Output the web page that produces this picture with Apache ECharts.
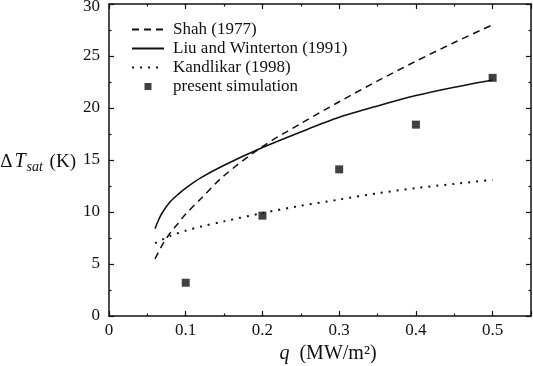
<!DOCTYPE html>
<html>
<head>
<meta charset="utf-8">
<script src="https://cdn.jsdelivr.net/npm/echarts@6/dist/echarts.min.js"></script>
<style>
html,body{margin:0;padding:0;background:#fff;}
#chart{width:533px;height:366px;}
</style>
</head>
<body>
<div id="chart"></div>
<script>
// ---- data ----
const seriesNames = ['Shah (1977)', 'Liu and Winterton (1991)', 'Kandlikar (1998)', 'present simulation'];

const shahQ = [0.06, 0.07, 0.08, 0.09, 0.10, 0.12, 0.15, 0.20, 0.25, 0.30, 0.35, 0.40, 0.45, 0.50];
const shahT = [5.5, 6.9, 8.0, 8.9, 9.8, 11.3, 13.5, 16.3, 18.5, 20.6, 22.6, 24.5, 26.3, 28.0];

const liuQ = [0.06, 0.065, 0.07, 0.08, 0.09, 0.10, 0.12, 0.15, 0.20, 0.25, 0.30, 0.35, 0.40, 0.45, 0.50];
const liuT = [8.4, 9.3, 10.0, 11.0, 11.7, 12.3, 13.3, 14.5, 16.2, 17.7, 19.1, 20.2, 21.2, 22.0, 22.7];

const kandQ = [0.06, 0.08, 0.10, 0.12, 0.15, 0.20, 0.25, 0.30, 0.35, 0.40, 0.45, 0.50];
const kandT = [7.0, 7.7, 8.2, 8.6, 9.1, 9.9, 10.6, 11.2, 11.8, 12.3, 12.7, 13.1];

const simQ = [0.1, 0.2, 0.3, 0.4, 0.5];
const simT = [3.2, 9.65, 14.1, 18.4, 22.9];

const xTicks = [0, 0.1, 0.2, 0.3, 0.4, 0.5];
const yTicks = [0, 5, 10, 15, 20, 25, 30];

// ---- build ----
const pairs = (a, b) => a.map((v, i) => [v, b[i]]);
const FONT = '"Liberation Serif", "DejaVu Serif", serif';
const INK = '#111';

const axisCommon = {
  type: 'value',
  axisLine: { show: true, onZero: false, lineStyle: { color: INK, width: 1.5 } },
  axisTick: { show: true, inside: true, length: 5, lineStyle: { color: INK, width: 1.2 } },
  minorTick: { show: true, splitNumber: 2, length: 2.5, lineStyle: { color: INK, width: 1.2 } },
  splitLine: { show: false },
  minorSplitLine: { show: false }
};

const fmtX = v => {
  const r = Math.round(v * 10) / 10;
  return xTicks.some(t => Math.abs(t - r) < 1e-9 && Math.abs(v - r) < 1e-9) ? (r === 0 ? '0' : String(r)) : '';
};
const yMax = yTicks[yTicks.length - 1];
const fmtY = v => {
  if (yTicks.indexOf(v) < 0) return '';
  return v === yMax ? '{t|' + v + '}' : String(v);
};

const hideSym = { opacity: 0 };

const chart = echarts.init(document.getElementById('chart'), null, { renderer: 'canvas' });
chart.setOption({
  animation: false,
  backgroundColor: '#fff',
  textStyle: { fontFamily: FONT, color: INK },
  grid: { left: 109, right: 2, top: 4, bottom: 50, containLabel: false, outerBoundsMode: 'none' },
  legend: {
    show: true,
    orient: 'vertical',
    left: 126,
    top: 16,
    itemWidth: 32,
    itemHeight: 14,
    itemGap: 2,
    textStyle: { fontFamily: FONT, fontSize: 17, color: INK, padding: [0, 0, 0, 4] },
    data: [
      { name: seriesNames[0], itemStyle: hideSym },
      { name: seriesNames[1], itemStyle: hideSym },
      { name: seriesNames[2], itemStyle: hideSym },
      { name: seriesNames[3], icon: 'path://M0,0L0,0M32,14L32,14M12.5,3.5h7v7h-7z' }
    ]
  },
  xAxis: [
    Object.assign({}, axisCommon, {
      position: 'bottom', min: 0, max: 0.55, interval: 0.1,
      name: '{i|q} (MW/m²)',
      nameLocation: 'middle', nameGap: 19,
      nameTextStyle: {
        fontFamily: FONT, fontSize: 20, color: INK, padding: [0, 0, 0, 16],
        rich: { i: { fontFamily: FONT, fontSize: 20, fontStyle: 'italic', color: INK, padding: [0, 5, 0, 0] } }
      },
      axisLabel: { show: true, margin: 6, fontFamily: FONT, fontSize: 17, color: INK, formatter: fmtX }
    }),
    Object.assign({}, axisCommon, {
      position: 'top', min: 0, max: 0.55, interval: 0.1,
      axisLabel: { show: false }
    })
  ],
  yAxis: [
    Object.assign({}, axisCommon, {
      position: 'left', min: 0, max: 30, interval: 5,
      name: '{a|Δ}{i|T}{s|sat}{a| (K)}',
      nameLocation: 'middle', nameRotate: 0, nameGap: 33,
      nameTextStyle: {
        fontFamily: FONT, fontSize: 19, color: INK, padding: [4, 0, 0, 0],
        rich: {
          a: { fontFamily: FONT, fontSize: 19, color: INK },
          i: { fontFamily: FONT, fontSize: 20, fontStyle: 'italic', color: INK, padding: [0, 1, 0, 2] },
          s: { fontFamily: FONT, fontSize: 14, fontStyle: 'italic', color: INK, padding: [10, 2, 0, 0] }
        }
      },
      axisLabel: { show: true, margin: 9, fontFamily: FONT, fontSize: 17, color: INK,
        formatter: fmtY,
        rich: { t: { fontFamily: FONT, fontSize: 17, color: INK, padding: [6, 0, 0, 0] } } }
    }),
    Object.assign({}, axisCommon, {
      position: 'right', min: 0, max: 30, interval: 5,
      axisLabel: { show: false }
    })
  ],
  series: [
    {
      name: seriesNames[0], type: 'line', xAxisIndex: 0, yAxisIndex: 0,
      data: pairs(shahQ, shahT), smooth: 0.3, symbol: 'none',
      lineStyle: { color: INK, width: 1.5, type: [7, 5] },
      itemStyle: { color: INK }
    },
    {
      name: seriesNames[1], type: 'line', xAxisIndex: 0, yAxisIndex: 0,
      data: pairs(liuQ, liuT), smooth: 0.3, symbol: 'none',
      lineStyle: { color: INK, width: 1.6, type: 'solid' },
      itemStyle: { color: INK }
    },
    {
      name: seriesNames[2], type: 'line', xAxisIndex: 0, yAxisIndex: 0,
      data: pairs(kandQ, kandT), smooth: 0.3, symbol: 'none',
      lineStyle: { color: INK, width: 2, type: [2, 6] },
      itemStyle: { color: INK }
    },
    {
      name: seriesNames[3], type: 'scatter', xAxisIndex: 0, yAxisIndex: 0,
      data: pairs(simQ, simT), symbol: 'rect', symbolSize: 8,
      itemStyle: { color: INK, borderWidth: 0 }
    }
  ]
});
</script>
</body>
</html>
